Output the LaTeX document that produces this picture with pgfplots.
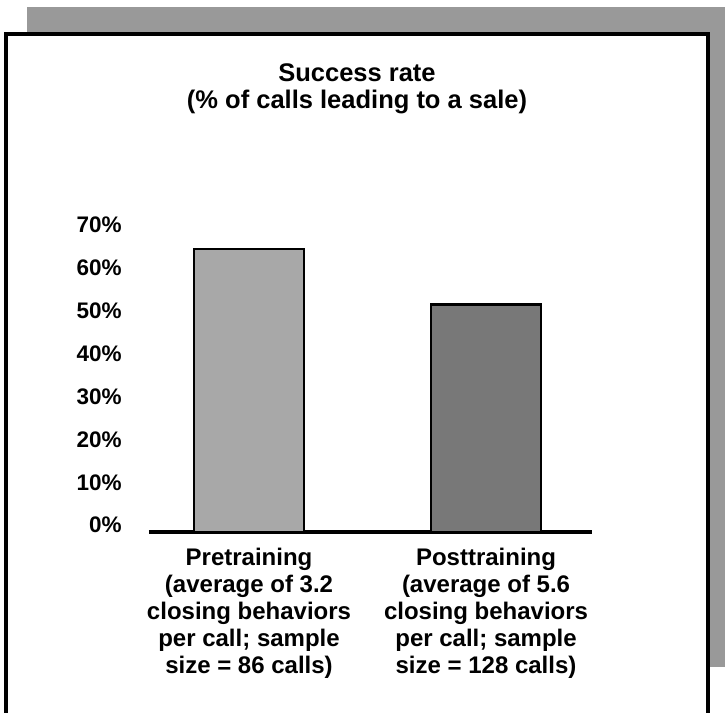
\documentclass[border=0pt]{standalone}
\usepackage{fontspec}
\setmainfont{Liberation Sans}
\usepackage{pgfplots}
\pgfplotsset{compat=1.18}
\definecolor{preFill}{gray}{0.66}
\definecolor{postFill}{gray}{0.47}
\definecolor{shadowFill}{gray}{0.6}
\begin{document}
\begin{tikzpicture}
\useasboundingbox (0pt,0pt) rectangle (362.5pt,356.5pt);
\fill[shadowFill] (13.5pt,23pt) rectangle (362.5pt,353pt);
\fill[white] (3pt,-5pt) rectangle (354pt,339.5pt);
\draw[line width=1.6pt] (3pt,-5pt) -- (3pt,339.5pt) -- (354pt,339.5pt) -- (354pt,-5pt);
\node[font=\fontsize{12.75}{13.5}\selectfont\bfseries, anchor=base, inner sep=0pt] at (178.5pt,315.5pt) {Success rate};
\node[font=\fontsize{12.75}{13.5}\selectfont\bfseries, anchor=base, inner sep=0pt] at (178.5pt,302pt) {(\% of calls leading to a sale)};
\begin{axis}[
  at={(74.5pt,90.5pt)}, anchor=south west,
  scale only axis, width=221.5pt, height=150.15pt,
  xmin=-0.422, xmax=1.447, ymin=0, ymax=70,
  axis x line*=bottom, axis y line*=left,
  y axis line style={draw=none},
  x axis line style={-, line width=2pt},
  major tick length=0pt,
  xtick={0,1},
  xticklabels={{Pretraining\\(average of 3.2\\closing behaviors\\per call; sample\\size = 86 calls)},
               {Posttraining\\(average of 5.6\\closing behaviors\\per call; sample\\size = 128 calls)}},
  ytick={0,10,20,30,40,50,60,70},
  yticklabels={0\%,10\%,20\%,30\%,40\%,50\%,60\%,70\%},
  yticklabel style={font=\fontsize{11.25}{13}\selectfont\bfseries, anchor=base east, inner sep=0pt, xshift=-13.5pt, yshift=-0.5pt},
  xticklabel style={font=\fontsize{12}{13.5}\selectfont\bfseries, align=center, anchor=north, inner sep=0pt, yshift=-8pt},
  ybar, bar width=55pt, clip=false,
]
\addplot[fill=preFill, draw=black, line width=1.3pt, bar shift=0pt] coordinates {(0,66)};
\addplot[fill=postFill, draw=black, line width=1.3pt, bar shift=0pt] coordinates {(1,53)};
\end{axis}
\end{tikzpicture}
\end{document}
